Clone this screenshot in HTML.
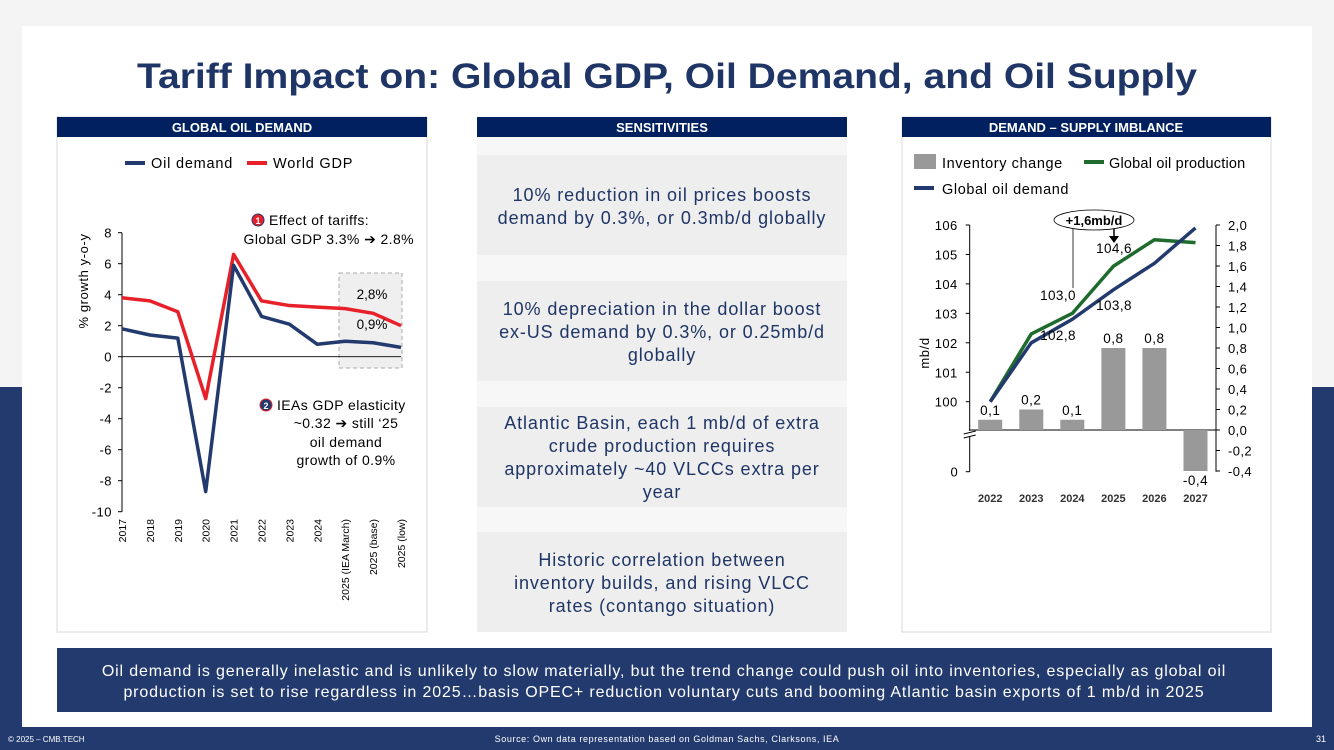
<!DOCTYPE html>
<html><head><meta charset="utf-8"><style>
body{margin:0;width:1334px;height:750px;overflow:hidden;background:#fff;font-family:"Liberation Sans",sans-serif}
svg{display:block}
</style></head><body>
<svg width="1334" height="750" viewBox="0 0 1334 750" font-family="Liberation Sans, sans-serif">
<rect x="0" y="0" width="1334" height="750" fill="#f4f4f4"/>
<rect x="0" y="387" width="1334" height="363" fill="#233a6e"/>
<rect x="22" y="26" width="1290" height="701" fill="#fff"/>
<text x="667" y="88" text-anchor="middle" font-size="35" font-weight="bold" fill="#1f3566" textLength="1060" lengthAdjust="spacingAndGlyphs">Tariff Impact on: Global GDP, Oil Demand, and Oil Supply</text>

<!-- panels -->
<rect x="57" y="117" width="370" height="515" fill="#fff" stroke="#d9d9d9"/>
<rect x="57" y="117" width="370" height="20" fill="#002060"/>
<text x="242" y="132" text-anchor="middle" font-size="13" font-weight="bold" fill="#fff">GLOBAL OIL DEMAND</text>
<rect x="477" y="117" width="370" height="20" fill="#002060"/>
<text x="662" y="132" text-anchor="middle" font-size="13" font-weight="bold" fill="#fff">SENSITIVITIES</text>
<rect x="477" y="137" width="370" height="495" fill="#f7f7f7"/>
<rect x="902" y="117" width="369" height="515" fill="#fff" stroke="#d9d9d9"/>
<rect x="902" y="117" width="369" height="20" fill="#002060"/>
<text x="1086" y="132" text-anchor="middle" font-size="13" font-weight="bold" fill="#fff">DEMAND – SUPPLY IMBLANCE</text>

<!-- sensitivities -->
<g font-size="18" fill="#1f3566" text-anchor="middle" letter-spacing="0.9">
<rect x="477" y="155" width="370" height="100" fill="#eeeeee"/>
<text x="662" y="201">10% reduction in oil prices boosts</text>
<text x="662" y="224">demand by 0.3%, or 0.3mb/d globally</text>
<rect x="477" y="281" width="370" height="100" fill="#eeeeee"/>
<text x="662" y="315">10% depreciation in the dollar boost</text>
<text x="662" y="338">ex-US demand by 0.3%, or 0.25mb/d</text>
<text x="662" y="361">globally</text>
<rect x="477" y="407" width="370" height="100" fill="#eeeeee"/>
<text x="662" y="429">Atlantic Basin, each 1 mb/d of extra</text>
<text x="662" y="452">crude production requires</text>
<text x="662" y="475">approximately ~40 VLCCs extra per</text>
<text x="662" y="498">year</text>
<rect x="477" y="532" width="370" height="100" fill="#eeeeee"/>
<text x="662" y="566">Historic correlation between</text>
<text x="662" y="589">inventory builds, and rising VLCC</text>
<text x="662" y="612">rates (contango situation)</text>
</g>

<g id="left-chart"></g>
<g id="right-chart"></g>

<!-- bottom note -->
<rect x="57" y="648" width="1215" height="64" fill="#233a6e"/>
<text x="664" y="676" text-anchor="middle" font-size="16" letter-spacing="0.85" fill="#fff">Oil demand is generally inelastic and is unlikely to slow materially, but the trend change could push oil into inventories, especially as global oil</text>
<text x="664" y="697" text-anchor="middle" font-size="16" letter-spacing="0.85" fill="#fff">production is set to rise regardless in 2025…basis OPEC+ reduction voluntary cuts and booming Atlantic basin exports of 1 mb/d in 2025</text>
<text x="8" y="742" font-size="8" fill="#fff">© 2025 – CMB.TECH</text>
<text x="667" y="742" text-anchor="middle" font-size="9" letter-spacing="0.6" fill="#fff">Source:  Own data representation based on Goldman Sachs, Clarksons, IEA</text>
<text x="1326" y="742" text-anchor="end" font-size="9" fill="#fff">31</text>
</svg>
<script>
const NS="http://www.w3.org/2000/svg";
function mk(parent,tag,attrs,txt){const e=document.createElementNS(NS,tag);for(const k in attrs)e.setAttribute(k,attrs[k]);if(txt!==undefined)e.textContent=txt;parent.appendChild(e);return e;}

// ---- left chart data
const leftCategories=["2017","2018","2019","2020","2021","2022","2023","2024","2025 (IEA March)","2025 (base)","2025 (low)"];
const oilDemand=[1.8,1.4,1.2,-8.7,5.9,2.6,2.1,0.8,1.0,0.9,0.6];
const worldGdp=[3.8,3.6,2.9,-2.7,6.6,3.6,3.3,3.2,3.1,2.8,2.0];
const leftTicks=[8,6,4,2,0,-2,-4,-6,-8,-10];

// ---- right chart data
const rightCategories=["2022","2023","2024","2025","2026","2027"];
const inventoryChange=[0.1,0.2,0.1,0.8,0.8,-0.4];
const globalProduction=[100.0,102.3,103.0,104.6,105.5,105.4];
const globalDemand=[100.0,102.0,102.8,103.8,104.7,105.9];
const rightLeftTicks=[106,105,104,103,102,101,100];
const rightRightTicks=[2.0,1.8,1.6,1.4,1.2,1.0,0.8,0.6,0.4,0.2,0.0,-0.2,-0.4];

(function(){
 const g=document.getElementById('left-chart');
 const x0=122,x1=401,yTop=232.7,yBot=511.7,vMax=8,vMin=-10;
 const xs=i=>x0+i*(x1-x0)/(leftCategories.length-1);
 const ys=v=>yTop+(vMax-v)*(yBot-yTop)/(vMax-vMin);
 let r=mk(g,'rect',{x:339,y:273,width:63,height:95,fill:'#efefef',stroke:'#aaa','stroke-dasharray':'4,3'});
 
 
 let ax=mk(g,'line',{x1:x0,y1:yTop,x2:x0,y2:yBot,stroke:'#000'});
 
 
 let zl=mk(g,'line',{x1:x0,y1:ys(0),x2:x1,y2:ys(0),stroke:'#000','stroke-width':0.8});
 
 
 leftTicks.forEach(t=>{
  mk(g,'line',{x1:x0-4,y1:ys(t),x2:x0,y2:ys(t),stroke:'#000'});
  const tx=mk(g,'text',{x:x0-10,y:ys(t)+5,'text-anchor':'end','font-size':13,'letter-spacing':0.5,fill:'#000'},String(t));
  
  
 });
 leftCategories.forEach((c,i)=>{
  const tx=mk(g,'text',{transform:`translate(${xs(i)+4},519) rotate(-90)`,'text-anchor':'end','font-size':10.5,fill:'#000'},c);
  
  
 });
 const yt=mk(g,'text',{transform:'translate(88,281) rotate(-90)','text-anchor':'middle','font-size':13,'letter-spacing':0.6,fill:'#000'},'% growth y-o-y');
 
 
 const pts=a=>a.map((v,i)=>xs(i)+','+ys(v)).join(' ');
 const l1=mk(g,'polyline',{points:pts(worldGdp),fill:'none',stroke:'#e8202a','stroke-width':3.5,'stroke-linejoin':'round'});
 
 
 const l2=mk(g,'polyline',{points:pts(oilDemand),fill:'none',stroke:'#233a6e','stroke-width':3.5,'stroke-linejoin':'round'});
 
 
 const tx1=mk(g,'text',{x:372,y:299,'text-anchor':'middle','font-size':13.5},'2,8%');
 
 
 const tx2=mk(g,'text',{x:372,y:329,'text-anchor':'middle','font-size':13.5},'0,9%');
 
 
 // legend
 const lg=mk(g,'g',{'font-size':14.5,'letter-spacing':0.8});
 
 
 mk(lg,'line',{x1:125,y1:163,x2:145,y2:163,stroke:'#233a6e','stroke-width':4});
 mk(lg,'text',{x:151,y:168},'Oil demand');
 mk(lg,'line',{x1:247,y1:163,x2:267,y2:163,stroke:'#e8202a','stroke-width':4});
 mk(lg,'text',{x:273,y:168},'World GDP');
 // annotations
 mk(g,'circle',{cx:258,cy:220,r:6,fill:'#e8202a',stroke:'#233a6e'});
 mk(g,'text',{x:258,y:224,'text-anchor':'middle','font-size':9,'font-weight':'bold',fill:'#fff'},'1');
 const a1=mk(g,'text',{x:269,y:225,'font-size':14,'letter-spacing':0.4},'Effect of tariffs:');
 
 
 mk(g,'text',{x:414,y:244,'text-anchor':'end','font-size':14,'letter-spacing':0.4},'Global GDP 3.3% ➔ 2.8%');
 mk(g,'circle',{cx:266,cy:405,r:6,fill:'#233a6e',stroke:'#e8202a'});
 mk(g,'text',{x:266,y:409,'text-anchor':'middle','font-size':9,'font-weight':'bold',fill:'#fff'},'2');
 const a2=mk(g,'text',{x:277,y:410,'font-size':14,'letter-spacing':0.4},'IEAs GDP elasticity');
 
 
 mk(g,'text',{x:346,y:428,'text-anchor':'middle','font-size':14,'letter-spacing':0.4},'~0.32 ➔ still ‘25');
 mk(g,'text',{x:346,y:447,'text-anchor':'middle','font-size':14,'letter-spacing':0.4},'oil demand');
 mk(g,'text',{x:346,y:465,'text-anchor':'middle','font-size':14,'letter-spacing':0.4},'growth of 0.9%');
})();

(function(){
 const g=document.getElementById('right-chart');
 const xL=969.7,xR=1216,y106=225,y100=401.7,y0=471.7;
 const yL=v=>v>=100?y100-(v-100)*(y100-y106)/6:y0;
 const yR=v=>430-v*(430-225)/2;
 const bw=(xR-xL)/rightCategories.length;
 const xs=i=>xL+bw*(i+0.5);
 let a=mk(g,'line',{x1:xL,y1:y106,x2:xL,y2:y0,stroke:'#000'});
 
 
 let b=mk(g,'line',{x1:xR,y1:y106,x2:xR,y2:y0,stroke:'#000'});
 
 
 mk(g,'rect',{x:xL-6,y:431,width:12,height:6,fill:'#fff'});
 mk(g,'line',{x1:xL-6,y1:434,x2:xL+6,y2:431,stroke:'#000'});
 mk(g,'line',{x1:xL-6,y1:438,x2:xL+6,y2:435,stroke:'#000'});
 rightLeftTicks.forEach(t=>{
  mk(g,'line',{x1:xL-4,y1:yL(t),x2:xL,y2:yL(t),stroke:'#000'});
  const tx=mk(g,'text',{x:xL-12,y:yL(t)+5,'text-anchor':'end','font-size':13,'letter-spacing':0.4},String(t));
  
  
 });
 mk(g,'line',{x1:xL-4,y1:y0,x2:xL,y2:y0,stroke:'#000'});
 const z=mk(g,'text',{x:xL-12,y:y0+5,'text-anchor':'end','font-size':13},'0');
 
 
 rightRightTicks.forEach(t=>{
  mk(g,'line',{x1:xR,y1:yR(t),x2:xR+4,y2:yR(t),stroke:'#000'});
  const tx=mk(g,'text',{x:xR+12,y:yR(t)+5,'font-size':13,'letter-spacing':0.4},t.toFixed(1).replace('.',','));
  
  
 });
 mk(g,'line',{x1:xL,y1:yR(0),x2:xR,y2:yR(0),stroke:'#000'});
 const yt=mk(g,'text',{transform:'translate(929,353) rotate(-90)','text-anchor':'middle','font-size':13,'letter-spacing':0.6},'mb/d');
 
 
 inventoryChange.forEach((v,i)=>{
  const y1=yR(Math.max(v,0)),y2=yR(Math.min(v,0));
  const r=mk(g,'rect',{x:xs(i)-12,y:y1,width:24,height:y2-y1,fill:'#999'});
  
  
  const ly=v>=0?y1-5:y2+14;
  const t=mk(g,'text',{x:xs(i),y:ly,'text-anchor':'middle','font-size':13.5,'letter-spacing':0.5},v.toFixed(1).replace('.',','));
  
  
  const c=mk(g,'text',{x:xs(i),y:502,'text-anchor':'middle','font-size':11,'font-weight':'bold','fill':'#333'},rightCategories[i]);
  
  
 });
 const pts=a=>a.map((v,i)=>xs(i)+','+yL(v)).join(' ');
 const p=mk(g,'polyline',{points:pts(globalProduction),fill:'none',stroke:'#1e6b2d','stroke-width':3.5,'stroke-linejoin':'round'});
 
 
 const d=mk(g,'polyline',{points:pts(globalDemand),fill:'none',stroke:'#233a6e','stroke-width':3.5,'stroke-linejoin':'round'});
 
 
 [['103,0',1058,300],['102,8',1058,340],['104,6',1114,253],['103,8',1114,310]].forEach(l=>{
  const t=mk(g,'text',{x:l[1],y:l[2],'text-anchor':'middle','font-size':13.5,'letter-spacing':0.4},l[0]);
  
  
 });
 const e=mk(g,'ellipse',{cx:1094,cy:220,rx:40,ry:10,fill:'#fff',stroke:'#000','stroke-width':0.8});
 
 
 mk(g,'text',{x:1094,y:225,'text-anchor':'middle','font-size':13,'font-weight':'bold'},'+1,6mb/d');
 mk(g,'line',{x1:1073,y1:229,x2:1073,y2:288,stroke:'#000','stroke-width':0.8});
 mk(g,'line',{x1:1114,y1:229,x2:1114,y2:236,stroke:'#000','stroke-width':1.5});
 mk(g,'polygon',{points:'1109,236 1119,236 1114,243',fill:'#000'});
 const lg=mk(g,'g',{'font-size':14.5,'letter-spacing':0.6});
 
 
 mk(lg,'rect',{x:914,y:154,width:22,height:15,fill:'#999'});
 mk(lg,'text',{x:942,y:168},'Inventory change');
 mk(lg,'line',{x1:1084,y1:162,x2:1104,y2:162,stroke:'#1e6b2d','stroke-width':4});
 mk(lg,'text',{x:1109,y:168,'letter-spacing':0.2},'Global oil production');
 mk(lg,'line',{x1:914,y1:188,x2:934,y2:188,stroke:'#233a6e','stroke-width':4});
 mk(lg,'text',{x:942,y:194},'Global oil demand');
})();
</script>
</body></html>
